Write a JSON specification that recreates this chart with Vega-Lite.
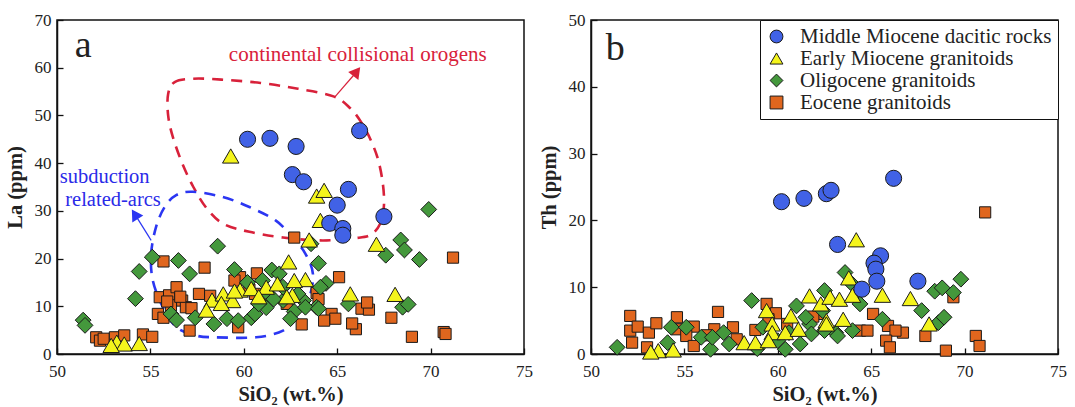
{
  "$schema": "https://vega.github.io/schema/vega-lite/v6.json",
  "background": "white",
  "padding": {"left": 4, "top": 10, "right": 5, "bottom": 2},
  "spacing": 4,
  "config": {
    "font": "Liberation Serif, Times New Roman, Times, DejaVu Serif, serif",
    "view": {"stroke": "#111", "strokeWidth": 1.5},
    "axis": {"grid": false, "domainColor": "#111", "domainWidth": 1.5, "tickColor": "#111", "tickSize": -6, "tickWidth": 1.3, "labelFont": "Liberation Serif, Times New Roman, Times, DejaVu Serif, serif", "labelFontSize": 17, "labelColor": "#222", "labelFlush": false, "labelPadding": 12, "titleFont": "Liberation Serif, Times New Roman, Times, DejaVu Serif, serif", "titleFontSize": 20.5, "titleFontWeight": "bold", "titleColor": "#222"},
    "axisX": {"titlePadding": 5, "labelPadding": 15},
    "axisY": {"titlePadding": 9},
    "legend": {"labelFont": "Liberation Serif, Times New Roman, Times, DejaVu Serif, serif"}
  },
  "datasets": {
    "la": [
      {"g":"E","SiO2":52.1,"La":3.5},{"g":"E","SiO2":52.3,"La":2.8},{"g":"E","SiO2":52.5,"La":3.2},{"g":"E","SiO2":53.1,"La":3.5},{"g":"E","SiO2":53.6,"La":3.9},{"g":"E","SiO2":54.6,"La":4.1},{"g":"E","SiO2":55.1,"La":3.6},
      {"g":"E","SiO2":55.7,"La":19.4},{"g":"E","SiO2":57.9,"La":18.1},{"g":"E","SiO2":55.5,"La":11.9},{"g":"E","SiO2":56.0,"La":12.3},{"g":"E","SiO2":56.4,"La":14.0},{"g":"E","SiO2":56.7,"La":11.2},{"g":"E","SiO2":56.9,"La":9.8},{"g":"E","SiO2":55.4,"La":8.4},{"g":"E","SiO2":55.7,"La":7.6},{"g":"E","SiO2":57.1,"La":4.9},{"g":"E","SiO2":57.6,"La":12.6},{"g":"E","SiO2":59.7,"La":5.6},{"g":"E","SiO2":59.8,"La":16.1},{"g":"E","SiO2":60.7,"La":16.9},{"g":"E","SiO2":60.6,"La":12.6},{"g":"E","SiO2":56.1,"La":10.2},{"g":"E","SiO2":56.6,"La":12.0},{"g":"E","SiO2":57.2,"La":9.6},{"g":"E","SiO2":55.9,"La":11.0},{"g":"E","SiO2":58.2,"La":12.2},{"g":"E","SiO2":59.5,"La":15.4},{"g":"E","SiO2":60.3,"La":13.5},{"g":"E","SiO2":61.0,"La":12.0},
      {"g":"E","SiO2":62.7,"La":24.4},{"g":"E","SiO2":65.1,"La":16.1},{"g":"E","SiO2":71.2,"La":20.2},{"g":"E","SiO2":63.1,"La":6.2},{"g":"E","SiO2":64.7,"La":8.4},{"g":"E","SiO2":64.9,"La":7.4},{"g":"E","SiO2":64.3,"La":7.0},{"g":"E","SiO2":66.0,"La":5.2},{"g":"E","SiO2":65.8,"La":6.4},{"g":"E","SiO2":66.3,"La":9.5},{"g":"E","SiO2":66.7,"La":9.3},{"g":"E","SiO2":66.6,"La":10.8},{"g":"E","SiO2":67.9,"La":7.6},{"g":"E","SiO2":69.0,"La":3.6},{"g":"E","SiO2":70.7,"La":4.6},{"g":"E","SiO2":70.8,"La":4.2},{"g":"E","SiO2":63.9,"La":12.8},{"g":"E","SiO2":62.3,"La":10.5},{"g":"E","SiO2":64.0,"La":11.5},
      {"g":"O","SiO2":51.4,"La":7.1},{"g":"O","SiO2":51.5,"La":6.0},{"g":"O","SiO2":54.2,"La":11.6},{"g":"O","SiO2":54.4,"La":17.3},{"g":"O","SiO2":55.1,"La":20.3},{"g":"O","SiO2":56.5,"La":19.6},{"g":"O","SiO2":57.1,"La":16.8},{"g":"O","SiO2":58.6,"La":22.6},{"g":"O","SiO2":59.5,"La":17.7},{"g":"O","SiO2":56.1,"La":8.4},{"g":"O","SiO2":56.4,"La":7.1},{"g":"O","SiO2":57.4,"La":7.6},{"g":"O","SiO2":58.4,"La":6.3},{"g":"O","SiO2":59.1,"La":7.4},{"g":"O","SiO2":59.7,"La":7.0},{"g":"O","SiO2":60.4,"La":7.6},{"g":"O","SiO2":60.6,"La":8.4},{"g":"O","SiO2":61.2,"La":9.7},{"g":"O","SiO2":61.0,"La":15.4},{"g":"O","SiO2":61.5,"La":17.6},{"g":"O","SiO2":61.9,"La":16.8},{"g":"O","SiO2":61.3,"La":12.6},{"g":"O","SiO2":62.1,"La":11.2},{"g":"O","SiO2":62.7,"La":8.9},{"g":"O","SiO2":62.5,"La":7.4},{"g":"O","SiO2":63.2,"La":11.2},{"g":"O","SiO2":63.9,"La":9.8},{"g":"O","SiO2":64.0,"La":19.0},{"g":"O","SiO2":64.4,"La":14.8},{"g":"O","SiO2":64.1,"La":14.0},{"g":"O","SiO2":62.1,"La":14.0},{"g":"O","SiO2":62.9,"La":12.6},{"g":"O","SiO2":63.3,"La":9.8},{"g":"O","SiO2":63.6,"La":23.1},{"g":"O","SiO2":64.0,"La":9.5},{"g":"O","SiO2":65.6,"La":10.5},{"g":"O","SiO2":69.9,"La":30.3},{"g":"O","SiO2":68.4,"La":23.9},{"g":"O","SiO2":68.6,"La":21.8},{"g":"O","SiO2":67.6,"La":20.7},{"g":"O","SiO2":69.4,"La":19.8},{"g":"O","SiO2":68.5,"La":9.8},{"g":"O","SiO2":68.8,"La":10.4},{"g":"O","SiO2":60.8,"La":10.5},{"g":"O","SiO2":61.6,"La":11.5},{"g":"O","SiO2":60.2,"La":15.0},
      {"g":"T","SiO2":59.3,"La":41.5},{"g":"T","SiO2":63.9,"La":33.1},{"g":"T","SiO2":64.3,"La":34.3},{"g":"T","SiO2":64.1,"La":28.0},{"g":"T","SiO2":63.5,"La":23.9},{"g":"T","SiO2":67.1,"La":23.0},{"g":"T","SiO2":62.4,"La":19.3},{"g":"T","SiO2":63.3,"La":15.6},{"g":"T","SiO2":62.7,"La":15.4},{"g":"T","SiO2":62.6,"La":12.3},{"g":"T","SiO2":65.7,"La":12.6},{"g":"T","SiO2":68.1,"La":12.5},{"g":"T","SiO2":58.3,"La":11.3},{"g":"T","SiO2":58.9,"La":12.6},{"g":"T","SiO2":59.4,"La":11.2},{"g":"T","SiO2":59.8,"La":13.4},{"g":"T","SiO2":60.4,"La":13.7},{"g":"T","SiO2":61.2,"La":14.0},{"g":"T","SiO2":61.8,"La":14.7},{"g":"T","SiO2":58.0,"La":9.2},{"g":"T","SiO2":58.8,"La":10.6},{"g":"T","SiO2":59.5,"La":13.2},{"g":"T","SiO2":53.2,"La":2.5},{"g":"T","SiO2":53.6,"La":2.1},{"g":"T","SiO2":54.4,"La":2.2},{"g":"T","SiO2":52.9,"La":1.8},{"g":"T","SiO2":60.8,"La":12.0},{"g":"T","SiO2":62.3,"La":12.0},
      {"g":"M","SiO2":60.2,"La":45.0},{"g":"M","SiO2":61.4,"La":45.2},{"g":"M","SiO2":62.8,"La":43.5},{"g":"M","SiO2":62.6,"La":37.6},{"g":"M","SiO2":63.2,"La":36.1},{"g":"M","SiO2":66.2,"La":46.8},{"g":"M","SiO2":65.6,"La":34.5},{"g":"M","SiO2":65.0,"La":31.2},{"g":"M","SiO2":64.6,"La":27.4},{"g":"M","SiO2":65.3,"La":26.3},{"g":"M","SiO2":65.3,"La":24.9},{"g":"M","SiO2":67.5,"La":28.8}
    ],
    "th": [
      {"g":"E","SiO2":52.1,"Th":5.7},{"g":"E","SiO2":52.1,"Th":3.5},{"g":"E","SiO2":52.5,"Th":4.1},{"g":"E","SiO2":52.2,"Th":1.7},{"g":"E","SiO2":53.1,"Th":3.2},{"g":"E","SiO2":53.0,"Th":1.0},{"g":"E","SiO2":53.5,"Th":4.6},{"g":"E","SiO2":54.6,"Th":5.5},{"g":"E","SiO2":54.6,"Th":3.7},{"g":"E","SiO2":55.5,"Th":4.1},{"g":"E","SiO2":55.1,"Th":2.7},{"g":"E","SiO2":55.5,"Th":1.2},{"g":"E","SiO2":56.8,"Th":6.3},{"g":"E","SiO2":56.6,"Th":3.7},{"g":"E","SiO2":57.6,"Th":4.0},{"g":"E","SiO2":58.8,"Th":3.6},{"g":"E","SiO2":59.4,"Th":7.5},{"g":"E","SiO2":59.9,"Th":6.1},{"g":"E","SiO2":59.5,"Th":5.2},{"g":"E","SiO2":62.3,"Th":6.0},{"g":"E","SiO2":61.9,"Th":5.6},{"g":"E","SiO2":60.5,"Th":4.5},{"g":"E","SiO2":64.4,"Th":3.5},{"g":"E","SiO2":71.1,"Th":21.2},{"g":"E","SiO2":69.4,"Th":8.5},{"g":"E","SiO2":65.1,"Th":6.0},{"g":"E","SiO2":64.8,"Th":3.5},{"g":"E","SiO2":65.9,"Th":4.2},{"g":"E","SiO2":66.7,"Th":3.2},{"g":"E","SiO2":66.3,"Th":3.5},{"g":"E","SiO2":65.8,"Th":2.0},{"g":"E","SiO2":66.0,"Th":1.0},{"g":"E","SiO2":67.9,"Th":2.7},{"g":"E","SiO2":69.0,"Th":0.5},{"g":"E","SiO2":70.6,"Th":2.7},{"g":"E","SiO2":70.8,"Th":1.2},{"g":"E","SiO2":56.2,"Th":2.8},{"g":"E","SiO2":57.8,"Th":2.2},
      {"g":"O","SiO2":51.4,"Th":1.0},{"g":"O","SiO2":54.3,"Th":4.0},{"g":"O","SiO2":55.1,"Th":4.0},{"g":"O","SiO2":54.1,"Th":1.7},{"g":"O","SiO2":55.9,"Th":2.5},{"g":"O","SiO2":56.4,"Th":0.7},{"g":"O","SiO2":57.1,"Th":3.2},{"g":"O","SiO2":56.5,"Th":2.5},{"g":"O","SiO2":57.4,"Th":1.5},{"g":"O","SiO2":58.6,"Th":8.0},{"g":"O","SiO2":60.4,"Th":0.7},{"g":"O","SiO2":60.6,"Th":3.2},{"g":"O","SiO2":61.0,"Th":7.2},{"g":"O","SiO2":61.2,"Th":1.5},{"g":"O","SiO2":61.7,"Th":4.5},{"g":"O","SiO2":62.4,"Th":6.5},{"g":"O","SiO2":62.5,"Th":9.5},{"g":"O","SiO2":63.1,"Th":3.2},{"g":"O","SiO2":61.5,"Th":5.5},{"g":"O","SiO2":63.6,"Th":12.2},{"g":"O","SiO2":63.9,"Th":10.7},{"g":"O","SiO2":64.4,"Th":7.5},{"g":"O","SiO2":65.6,"Th":5.2},{"g":"O","SiO2":67.7,"Th":6.5},{"g":"O","SiO2":68.4,"Th":9.4},{"g":"O","SiO2":68.8,"Th":9.9},{"g":"O","SiO2":69.4,"Th":9.2},{"g":"O","SiO2":69.8,"Th":11.2},{"g":"O","SiO2":68.6,"Th":4.7},{"g":"O","SiO2":68.9,"Th":5.5},{"g":"O","SiO2":64.0,"Th":3.5},{"g":"O","SiO2":63.2,"Th":2.7},{"g":"O","SiO2":62.5,"Th":3.5},{"g":"O","SiO2":59.2,"Th":4.0},{"g":"O","SiO2":60.0,"Th":2.0},{"g":"O","SiO2":58.9,"Th":0.8},{"g":"O","SiO2":61.8,"Th":3.0},
      {"g":"T","SiO2":59.4,"Th":6.5},{"g":"T","SiO2":59.7,"Th":4.5},{"g":"T","SiO2":59.7,"Th":3.2},{"g":"T","SiO2":58.2,"Th":1.7},{"g":"T","SiO2":58.8,"Th":1.7},{"g":"T","SiO2":59.5,"Th":2.0},{"g":"T","SiO2":60.4,"Th":3.2},{"g":"T","SiO2":60.7,"Th":5.7},{"g":"T","SiO2":61.1,"Th":3.7},{"g":"T","SiO2":61.7,"Th":8.7},{"g":"T","SiO2":62.3,"Th":7.5},{"g":"T","SiO2":62.6,"Th":5.0},{"g":"T","SiO2":62.8,"Th":8.5},{"g":"T","SiO2":53.6,"Th":0.5},{"g":"T","SiO2":53.2,"Th":0.3},{"g":"T","SiO2":54.4,"Th":0.6},{"g":"T","SiO2":64.2,"Th":17.1},{"g":"T","SiO2":63.8,"Th":11.4},{"g":"T","SiO2":63.3,"Th":8.2},{"g":"T","SiO2":65.6,"Th":8.8},{"g":"T","SiO2":67.1,"Th":8.3},{"g":"T","SiO2":68.1,"Th":4.5},{"g":"T","SiO2":63.5,"Th":5.2},{"g":"T","SiO2":62.6,"Th":4.5},{"g":"T","SiO2":64.0,"Th":8.8},
      {"g":"M","SiO2":60.2,"Th":22.8},{"g":"M","SiO2":61.4,"Th":23.3},{"g":"M","SiO2":62.6,"Th":24.0},{"g":"M","SiO2":62.85,"Th":24.5},{"g":"M","SiO2":63.2,"Th":16.4},{"g":"M","SiO2":66.2,"Th":26.3},{"g":"M","SiO2":65.5,"Th":14.7},{"g":"M","SiO2":65.15,"Th":13.6},{"g":"M","SiO2":65.25,"Th":12.7},{"g":"M","SiO2":65.3,"Th":10.9},{"g":"M","SiO2":64.5,"Th":9.7},{"g":"M","SiO2":67.5,"Th":10.9}
    ],
    "curves": [
      {"curve":"red","i":0,"SiO2":55.95,"La":54.5},{"curve":"red","i":1,"SiO2":56.3,"La":57.0},{"curve":"red","i":2,"SiO2":57.3,"La":57.7},{"curve":"red","i":3,"SiO2":58.8,"La":57.5},{"curve":"red","i":4,"SiO2":60.9,"La":56.8},{"curve":"red","i":5,"SiO2":62.9,"La":55.6},{"curve":"red","i":6,"SiO2":64.8,"La":54.0},{"curve":"red","i":7,"SiO2":65.7,"La":51.5},{"curve":"red","i":8,"SiO2":66.3,"La":48.5},{"curve":"red","i":9,"SiO2":66.8,"La":44.8},{"curve":"red","i":10,"SiO2":67.2,"La":40.6},{"curve":"red","i":11,"SiO2":67.45,"La":35.5},{"curve":"red","i":12,"SiO2":67.5,"La":31.0},{"curve":"red","i":13,"SiO2":67.3,"La":27.3},{"curve":"red","i":14,"SiO2":66.8,"La":25.0},{"curve":"red","i":15,"SiO2":66.0,"La":24.3},{"curve":"red","i":16,"SiO2":64.2,"La":23.8},{"curve":"red","i":17,"SiO2":62.1,"La":24.4},{"curve":"red","i":18,"SiO2":60.3,"La":25.6},{"curve":"red","i":19,"SiO2":58.9,"La":27.3},{"curve":"red","i":20,"SiO2":58.0,"La":30.6},{"curve":"red","i":21,"SiO2":57.3,"La":35.0},{"curve":"red","i":22,"SiO2":56.7,"La":40.0},{"curve":"red","i":23,"SiO2":56.2,"La":45.5},{"curve":"red","i":24,"SiO2":55.95,"La":50.0},
      {"curve":"blue","i":0,"SiO2":57.27,"La":34.0},{"curve":"blue","i":1,"SiO2":58.88,"La":32.9},{"curve":"blue","i":2,"SiO2":60.3,"La":30.8},{"curve":"blue","i":3,"SiO2":61.7,"La":28.0},{"curve":"blue","i":4,"SiO2":62.6,"La":24.5},{"curve":"blue","i":5,"SiO2":63.3,"La":21.0},{"curve":"blue","i":6,"SiO2":63.7,"La":16.8},{"curve":"blue","i":7,"SiO2":63.5,"La":11.9},{"curve":"blue","i":8,"SiO2":62.8,"La":7.7},{"curve":"blue","i":9,"SiO2":62.1,"La":4.9},{"curve":"blue","i":10,"SiO2":60.66,"La":3.5},{"curve":"blue","i":11,"SiO2":58.5,"La":3.5},{"curve":"blue","i":12,"SiO2":57.45,"La":3.85},{"curve":"blue","i":13,"SiO2":56.4,"La":5.6},{"curve":"blue","i":14,"SiO2":55.67,"La":9.8},{"curve":"blue","i":15,"SiO2":55.13,"La":15.4},{"curve":"blue","i":16,"SiO2":55.04,"La":21.0},{"curve":"blue","i":17,"SiO2":55.3,"La":26.6},{"curve":"blue","i":18,"SiO2":55.76,"La":30.8},{"curve":"blue","i":19,"SiO2":56.38,"La":33.3}
    ]
  },
  "hconcat": [
    {
      "width": 467,
      "height": 334,
      "encoding": {
        "x": {"field": "SiO2", "type": "quantitative", "scale": {"domain": [50, 75], "nice": false, "zero": false}, "axis": {"values": [50, 55, 60, 65, 70, 75], "title": "SiO₂ (wt.%)"}},
        "y": {"field": "La", "type": "quantitative", "scale": {"domain": [0, 70], "nice": false, "zero": false}, "axis": {"values": [0, 10, 20, 30, 40, 50, 60, 70], "title": "La (ppm)"}}
      },
      "layer": [
        {"data": {"name": "curves"}, "transform": [{"filter": "datum.curve === 'red'"}], "mark": {"type": "line", "interpolate": "cardinal-closed", "stroke": "#d8213a", "strokeWidth": 2.6, "strokeDash": [11, 8]}, "encoding": {"order": {"field": "i", "type": "quantitative"}}},
        {"data": {"name": "curves"}, "transform": [{"filter": "datum.curve === 'blue'"}], "mark": {"type": "line", "interpolate": "cardinal-closed", "stroke": "#2b36f2", "strokeWidth": 2.6, "strokeDash": [11, 8]}, "encoding": {"order": {"field": "i", "type": "quantitative"}}},
        {"data": {"values": [{"SiO2": 64.9, "La": 54.0, "SiO2e": 66.03, "Lae": 59.1}]}, "mark": {"type": "rule", "stroke": "#d8213a", "strokeWidth": 1.2}, "encoding": {"x2": {"field": "SiO2e"}, "y2": {"field": "Lae"}}},
        {"data": {"values": [{"SiO2": 66.03, "La": 59.1}]}, "mark": {"type": "point", "shape": "triangle-up", "angle": 38, "filled": true, "fill": "#d8213a", "stroke": "#d8213a", "size": 90, "opacity": 1}},
        {"data": {"values": [{"SiO2": 55.04, "La": 23.8, "SiO2e": 54.18, "Lae": 29.2}]}, "mark": {"type": "rule", "stroke": "#2b36f2", "strokeWidth": 1.2}, "encoding": {"x2": {"field": "SiO2e"}, "y2": {"field": "Lae"}}},
        {"data": {"values": [{"SiO2": 54.18, "La": 29.2}]}, "mark": {"type": "point", "shape": "triangle-up", "angle": 328, "filled": true, "fill": "#2b36f2", "stroke": "#2b36f2", "size": 90, "opacity": 1}},
        {"data": {"name": "la"}, "transform": [{"filter": "datum.g === 'E'"}], "mark": {"type": "point", "shape": "square", "filled": true, "fill": "#e0661e", "stroke": "#1a1a1a", "strokeWidth": 1, "size": 125, "opacity": 1}},
        {"data": {"name": "la"}, "transform": [{"filter": "datum.g === 'O'"}], "mark": {"type": "point", "shape": "diamond", "filled": true, "fill": "#44983c", "stroke": "#1a1a1a", "strokeWidth": 1, "size": 250, "opacity": 1}},
        {"data": {"name": "la"}, "transform": [{"filter": "datum.g === 'T'"}], "mark": {"type": "point", "shape": "triangle-up", "filled": true, "fill": "#f4f41c", "stroke": "#1a1a1a", "strokeWidth": 1, "size": 270, "opacity": 1}},
        {"data": {"name": "la"}, "transform": [{"filter": "datum.g === 'M'"}], "mark": {"type": "point", "shape": "circle", "filled": true, "fill": "#4162e6", "stroke": "#1a1a1a", "strokeWidth": 1, "size": 260, "opacity": 1}},
        {"data": {"values": [{"SiO2": 51.4, "La": 64.6, "t": "a"}]}, "mark": {"type": "text", "fontSize": 38, "color": "#222", "align": "center", "baseline": "middle"}, "encoding": {"text": {"field": "t"}}},
        {"data": {"values": [{"SiO2": 66.1, "La": 62.6, "t": "continental collisional orogens"}]}, "mark": {"type": "text", "fontSize": 21, "color": "#d8213a", "align": "center", "baseline": "middle"}, "encoding": {"text": {"field": "t"}}},
        {"data": {"values": [{"SiO2": 52.55, "La": 37.1, "t": "subduction"}, {"SiO2": 53.0, "La": 32.2, "t": "related-arcs"}]}, "mark": {"type": "text", "fontSize": 20.5, "color": "#2a2ae8", "align": "center", "baseline": "middle"}, "encoding": {"text": {"field": "t"}}}
      ]
    },
    {
      "width": 467,
      "height": 334,
      "encoding": {
        "x": {"field": "SiO2", "type": "quantitative", "scale": {"domain": [50, 75], "nice": false, "zero": false}, "axis": {"values": [50, 55, 60, 65, 70, 75], "title": "SiO₂ (wt.%)"}},
        "y": {"field": "Th", "type": "quantitative", "scale": {"domain": [0, 50], "nice": false, "zero": false}, "axis": {"values": [0, 10, 20, 30, 40, 50], "title": "Th (ppm)"}}
      },
      "layer": [
        {
          "data": {"name": "th"},
          "encoding": {
            "fill": {"field": "g", "type": "nominal", "scale": {"domain": ["M", "T", "O", "E"], "range": ["#4162e6", "#f4f41c", "#44983c", "#e0661e"]}, "legend": {"orient": "top-right", "offset": 0, "title": null, "fillColor": "white", "strokeColor": "#111", "padding": 6, "labelFontSize": 21, "labelLimit": 400, "labelColor": "#222", "labelOffset": 13, "rowPadding": 0, "symbolSize": 165, "symbolStrokeColor": "#1a1a1a", "symbolStrokeWidth": 1, "labelExpr": "datum.label === 'M' ? 'Middle Miocene dacitic rocks' : datum.label === 'T' ? 'Early Miocene granitoids' : datum.label === 'O' ? 'Oligocene granitoids' : 'Eocene granitoids'"}},
            "shape": {"field": "g", "type": "nominal", "scale": {"domain": ["M", "T", "O", "E"], "range": ["circle", "triangle-up", "diamond", "square"]}}
          },
          "layer": [
            {"transform": [{"filter": "datum.g === 'E'"}], "mark": {"type": "point", "filled": true, "stroke": "#1a1a1a", "strokeWidth": 1, "size": 125, "opacity": 1}},
            {"transform": [{"filter": "datum.g === 'O'"}], "mark": {"type": "point", "filled": true, "stroke": "#1a1a1a", "strokeWidth": 1, "size": 250, "opacity": 1}},
            {"transform": [{"filter": "datum.g === 'T'"}], "mark": {"type": "point", "filled": true, "stroke": "#1a1a1a", "strokeWidth": 1, "size": 270, "opacity": 1}},
            {"transform": [{"filter": "datum.g === 'M'"}], "mark": {"type": "point", "filled": true, "stroke": "#1a1a1a", "strokeWidth": 1, "size": 260, "opacity": 1}}
          ]
        },
        {"data": {"values": [{"SiO2": 51.3, "Th": 45.7, "t": "b"}]}, "mark": {"type": "text", "fontSize": 38, "color": "#222", "align": "center", "baseline": "middle"}, "encoding": {"text": {"field": "t"}}}
      ]
    }
  ],
  "resolve": {"scale": {"fill": "independent", "shape": "independent"}, "legend": {"fill": "independent", "shape": "independent"}}
}
